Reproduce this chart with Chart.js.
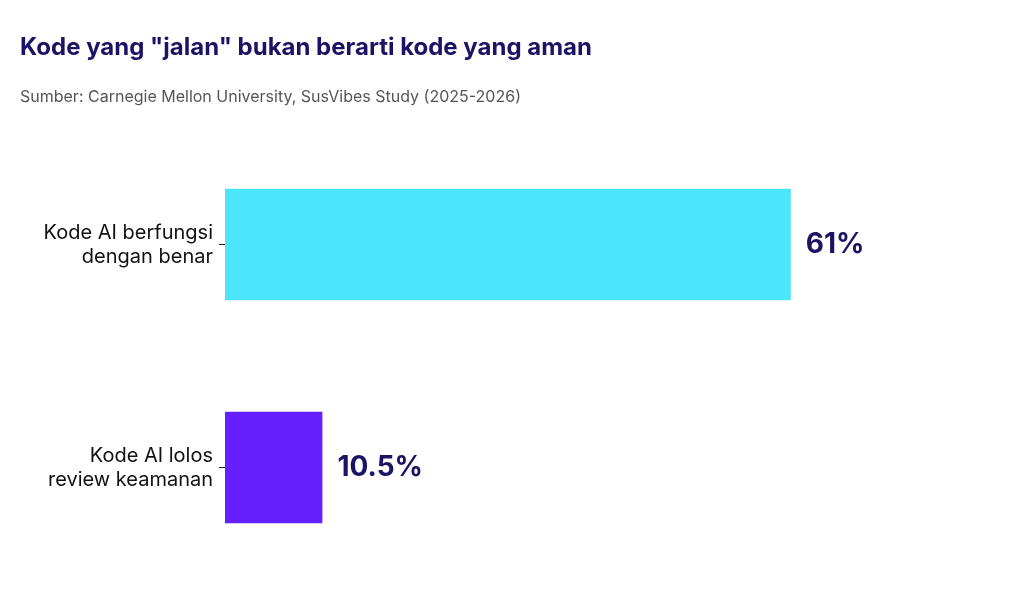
<!DOCTYPE html>
<html>
<head>
<meta charset="utf-8">
<script src="https://cdn.jsdelivr.net/npm/chart.js@4"></script>
<style>
  html, body { margin: 0; padding: 0; background: #fff; }
  #wrap { width: 1024px; height: 614px; position: relative; }
</style>
</head>
<body>
<div id="wrap"><canvas id="chart"></canvas></div>
<script>
// data
const categories = [
  ['Kode AI berfungsi', 'dengan benar'],
  ['Kode AI lolos', 'review keamanan']
];
const values = [61, 10.5];
const valueLabels = ['61%', '10.5%'];
const barColors = ['#4de5fc', '#6620ff'];

const navy = '#1b1363';

// draw the value next to each bar
const valueLabelPlugin = {
  id: 'valueLabels',
  afterDatasetsDraw(chart) {
    const ctx = chart.ctx;
    const meta = chart.getDatasetMeta(0);
    ctx.save();
    ctx.font = 'bold 28px Inter';
    ctx.fillStyle = navy;
    ctx.textAlign = 'left';
    ctx.textBaseline = 'middle';
    meta.data.forEach((bar, i) => {
      ctx.fillText(valueLabels[i], bar.x + 15, bar.y);
    });
    ctx.restore();
  }
};

new Chart(document.getElementById('chart'), {
  type: 'bar',
  data: {
    labels: categories,
    datasets: [{
      data: values,
      backgroundColor: barColors,
      borderWidth: 0,
      categoryPercentage: 1,
      barPercentage: 0.5
    }]
  },
  options: {
    indexAxis: 'y',
    responsive: true,
    maintainAspectRatio: false,
    animation: false,
    layout: { padding: { left: 20, right: 57, top: 0, bottom: 35 } },
    plugins: {
      legend: { display: false },
      tooltip: { enabled: false },
      title: {
        display: true,
        text: 'Kode yang "jalan" bukan berarti kode yang aman',
        align: 'start',
        color: navy,
        font: { family: 'Inter', size: 24, weight: 'bold', lineHeight: 1.2 },
        padding: { top: 33, bottom: 0 }
      },
      subtitle: {
        display: true,
        text: 'Sumber: Carnegie Mellon University, SusVibes Study (2025-2026)',
        align: 'start',
        color: '#555555',
        font: { family: 'Inter', size: 16, lineHeight: 1.2 },
        padding: { top: 26, bottom: 26 }
      }
    },
    scales: {
      x: {
        display: false,
        min: 0,
        max: 80
      },
      y: {
        afterFit(scale) { scale.width = 205; },
        border: { display: false },
        grid: {
          offset: false,
          drawOnChartArea: false,
          drawTicks: true,
          tickLength: 6,
          color: '#222'
        },
        ticks: {
          color: '#111',
          padding: 6,
          font: { family: 'Inter', size: 20, lineHeight: 1.2 }
        }
      }
    }
  },
  plugins: [valueLabelPlugin]
});
</script>
</body>
</html>
